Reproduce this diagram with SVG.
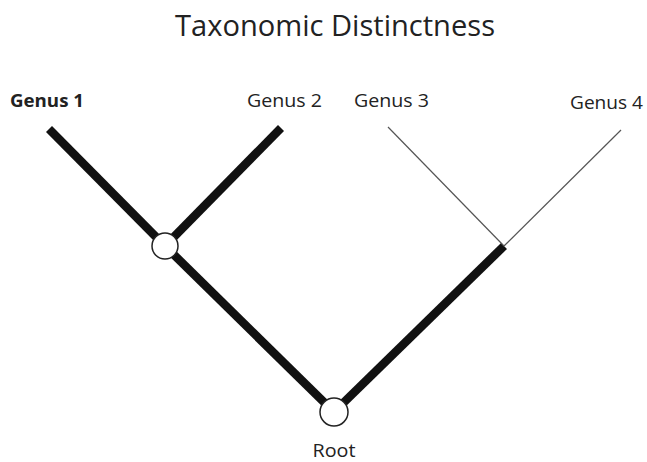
<svg xmlns="http://www.w3.org/2000/svg" width="647" height="462" viewBox="0 0 647 462">
<style>
.t{font-family:"Open Sans","Liberation Sans",sans-serif;fill:#222}
.thick{stroke:#111;stroke-width:8.5;stroke-linecap:butt;fill:none}
.thin{stroke:#555;stroke-width:1.2;fill:none}
.node{fill:#fff;stroke:#222;stroke-width:1.5}
</style>
<rect width="647" height="462" fill="#fff"/>
<text class="t" x="335" y="36" font-size="29" text-anchor="middle" textLength="320" lengthAdjust="spacingAndGlyphs">Taxonomic Distinctness</text>
<g id="connectors">
<line class="thick" x1="49" y1="129" x2="165" y2="246"/>
<line class="thick" x1="281" y1="128" x2="165" y2="246"/>
<line class="thick" x1="165" y1="246" x2="334" y2="412"/>
<line class="thick" x1="334" y1="412" x2="504" y2="246"/>
<line class="thin" x1="388" y1="127" x2="504" y2="246"/>
<line class="thin" x1="621" y1="130" x2="504" y2="246"/>
</g>
<g id="genus1"><text class="t" x="10" y="107" font-size="18" font-weight="bold" textLength="74" lengthAdjust="spacingAndGlyphs">Genus 1</text></g>
<g id="genus2"><text class="t" x="247" y="107" font-size="18" textLength="75" lengthAdjust="spacingAndGlyphs">Genus 2</text></g>
<g id="genus3"><text class="t" x="354" y="107" font-size="18" textLength="75" lengthAdjust="spacingAndGlyphs">Genus 3</text></g>
<g id="genus4"><text class="t" x="570" y="109" font-size="18" textLength="73" lengthAdjust="spacingAndGlyphs">Genus 4</text></g>
<g id="node1"><circle class="node" cx="165" cy="246" r="13"/></g>
<g id="root"><circle class="node" cx="334" cy="412" r="14"/><text class="t" x="334" y="457" font-size="18" text-anchor="middle" textLength="43" lengthAdjust="spacingAndGlyphs">Root</text></g>
</svg>
